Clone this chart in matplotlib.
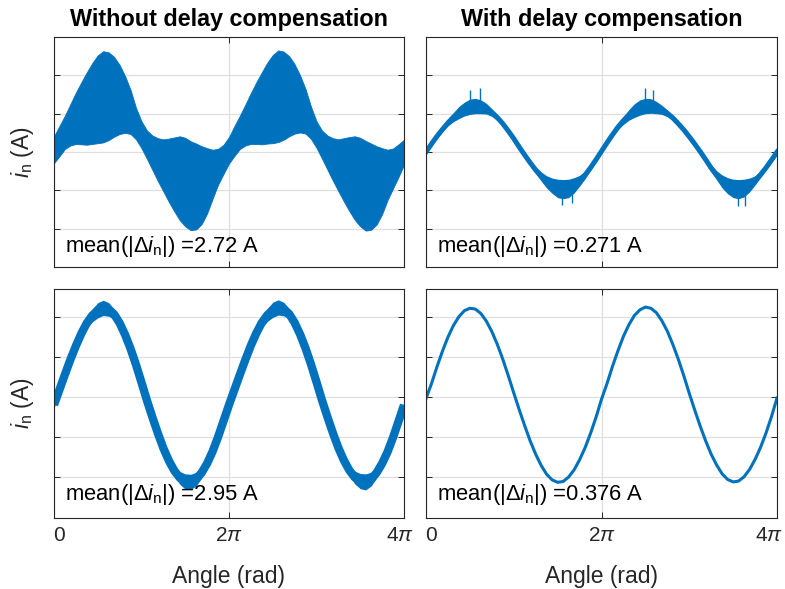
import numpy as np
import matplotlib
matplotlib.use("Agg")
from matplotlib import pyplot as plt
import matplotlib.transforms as mtransforms

plt.rcParams['font.family'] = ['Liberation Sans', 'DejaVu Sans']
plt.rcParams['mathtext.fontset'] = 'custom'
plt.rcParams['mathtext.rm'] = 'Liberation Sans'
plt.rcParams['mathtext.it'] = 'Liberation Sans:italic'
plt.rcParams['mathtext.bf'] = 'Liberation Sans:bold'

# angle grid, pi/16 steps over two electrical periods
angle = np.arange(65) * np.pi / 16

# without compensation, low current: envelope of the ripple band
tl_upper = [0.41, 0.68, 0.95, 1.25, 1.55, 1.82, 2.08, 2.32, 2.52, 2.63, 2.60, 2.48, 2.27, 1.98, 1.62, 1.15,
            0.80, 0.56, 0.43, 0.36, 0.33, 0.35, 0.38, 0.41, 0.37, 0.28, 0.22, 0.15, 0.10, 0.06, 0.08, 0.19,
            0.39, 0.68, 0.95, 1.24, 1.54, 1.82, 2.08, 2.33, 2.53, 2.65, 2.62, 2.50, 2.29, 2.00, 1.64, 1.18,
            0.80, 0.56, 0.43, 0.36, 0.33, 0.36, 0.39, 0.41, 0.37, 0.29, 0.22, 0.15, 0.10, 0.06, 0.09, 0.20,
            0.32]
tl_lower = [-0.29, -0.11, 0.08, 0.17, 0.21, 0.20, 0.19, 0.21, 0.23, 0.25, 0.31, 0.40, 0.47, 0.50, 0.47, 0.33,
            0.10, -0.18, -0.47, -0.76, -1.03, -1.30, -1.55, -1.78, -1.94, -2.04, -2.02, -1.88, -1.60, -1.22, -0.85, -0.57,
            -0.30, -0.10, 0.08, 0.17, 0.21, 0.21, 0.20, 0.22, 0.23, 0.26, 0.32, 0.41, 0.48, 0.51, 0.48, 0.34,
            0.11, -0.17, -0.46, -0.75, -1.02, -1.29, -1.54, -1.77, -1.94, -2.05, -2.03, -1.89, -1.62, -1.25, -0.95, -0.65,
            -0.33]

# with compensation, low current
tr_center = [0.00, 0.21, 0.41, 0.59, 0.76, 0.91, 1.03, 1.12, 1.18, 1.20, 1.18, 1.13, 1.03, 0.90, 0.74, 0.55,
             0.35, 0.13, -0.08, -0.28, -0.47, -0.64, -0.78, -0.88, -0.95, -0.97, -0.95, -0.87, -0.75, -0.60, -0.41, -0.20,
             0.02, 0.24, 0.45, 0.65, 0.82, 0.97, 1.08, 1.16, 1.20, 1.20, 1.16, 1.10, 1.01, 0.89, 0.74, 0.58,
             0.40, 0.21, 0.01, -0.20, -0.42, -0.61, -0.77, -0.88, -0.95, -0.97, -0.94, -0.86, -0.74, -0.59, -0.41, -0.21,
             0.00]
tr_ripple = [0.06, 0.06, 0.06, 0.06, 0.08, 0.12, 0.16, 0.18, 0.20, 0.20, 0.18, 0.14, 0.10, 0.08, 0.06, 0.06,
             0.06, 0.06, 0.06, 0.06, 0.08, 0.12, 0.16, 0.20, 0.24, 0.25, 0.24, 0.20, 0.14, 0.10, 0.07, 0.06,
             0.06, 0.06, 0.06, 0.07, 0.10, 0.14, 0.18, 0.20, 0.20, 0.19, 0.16, 0.12, 0.09, 0.07, 0.06, 0.06,
             0.06, 0.06, 0.06, 0.06, 0.08, 0.12, 0.17, 0.21, 0.24, 0.25, 0.23, 0.18, 0.12, 0.08, 0.06, 0.06,
             0.06]
tr_spike_angle = np.array([0.50, 0.61, 1.55, 1.66, 2.50, 2.59, 3.55, 3.63]) * np.pi
tr_spike_tip = [1.62, 1.66, -1.37, -1.33, 1.67, 1.63, -1.42, -1.40]

# without compensation, high current
bl_center = [-0.20, 0.18, 0.56, 0.93, 1.27, 1.58, 1.84, 2.03, 2.16, 2.22, 2.18, 2.06, 1.84, 1.55, 1.20, 0.80,
             0.36, -0.09, -0.51, -0.91, -1.28, -1.59, -1.84, -2.02, -2.11, -2.12, -2.05, -1.89, -1.66, -1.36, -1.00, -0.60,
             -0.20, 0.18, 0.56, 0.93, 1.28, 1.59, 1.85, 2.04, 2.17, 2.23, 2.19, 2.07, 1.85, 1.56, 1.21, 0.81,
             0.37, -0.08, -0.50, -0.90, -1.27, -1.58, -1.83, -2.01, -2.10, -2.12, -2.05, -1.89, -1.66, -1.37, -1.01, -0.61,
             -0.20]
bl_ripple = [0.08, 0.08, 0.08, 0.08, 0.08, 0.10, 0.13, 0.16, 0.19, 0.19, 0.17, 0.13, 0.10, 0.08, 0.08, 0.08,
             0.08, 0.08, 0.08, 0.08, 0.08, 0.10, 0.13, 0.16, 0.19, 0.19, 0.17, 0.13, 0.10, 0.08, 0.08, 0.08,
             0.08, 0.08, 0.08, 0.08, 0.08, 0.10, 0.13, 0.16, 0.19, 0.19, 0.17, 0.13, 0.10, 0.08, 0.08, 0.08,
             0.08, 0.08, 0.08, 0.08, 0.08, 0.10, 0.13, 0.16, 0.19, 0.20, 0.17, 0.13, 0.10, 0.08, 0.08, 0.08,
             0.08]

# with compensation, high current
br_center = [-0.04, 0.33, 0.75, 1.14, 1.49, 1.78, 2.00, 2.15, 2.21, 2.19, 2.08, 1.89, 1.63, 1.31, 0.94, 0.53,
             0.10, -0.32, -0.72, -1.10, -1.43, -1.71, -1.93, -2.07, -2.13, -2.11, -2.00, -1.82, -1.57, -1.27, -0.91, -0.51,
             -0.06, 0.33, 0.76, 1.15, 1.51, 1.80, 2.03, 2.17, 2.24, 2.21, 2.10, 1.90, 1.64, 1.31, 0.94, 0.53,
             0.09, -0.33, -0.73, -1.10, -1.43, -1.70, -1.92, -2.06, -2.12, -2.10, -1.99, -1.81, -1.56, -1.26, -0.90, -0.49,
             -0.03]

titles = ["Without delay compensation", "With delay compensation"]
mean_err = ["2.72", "0.271", "2.95", "0.376"]
xtick_vals = [0, 2 * np.pi, 4 * np.pi]
xtick_labels = ["0", r"2$\pi$", r"4$\pi$"]
ytick_vals = [-2, -1, 0, 1, 2]

blue = '#0072BD'
dark = '#262626'

fig = plt.figure(figsize=(7.85, 5.89), dpi=100)
W, H = 785, 589
boxes = [(54, 37, 350, 230), (426, 37, 351, 230), (54, 289, 350, 229), (426, 289, 351, 229)]
axes = [fig.add_axes([x / W, 1 - (y + h) / H, w / W, h / H]) for x, y, w, h in boxes]

for i, ax in enumerate(axes):
    ax.set_xlim(0, 4 * np.pi)
    if i < 2:
        ax.set_ylim(-3, 3)
    else:
        ax.set_ylim(-3.02, 2.69)
    ax.set_xticks(xtick_vals)
    ax.set_yticks(ytick_vals)
    ax.set_yticklabels([])
    ax.grid(True, color='#dfdfdf', linewidth=0.9)
    ax.set_axisbelow(True)
    ax.tick_params(direction='in', length=4.5, width=0.7, top=True, right=True,
                   colors=dark, labelsize=15, pad=6)
    for sp in ax.spines.values():
        sp.set_color(dark)
        sp.set_linewidth(0.8)
    if i < 2:
        ax.set_xticklabels([])
        ax.set_title(titles[i], fontsize=16.8, fontweight='bold', pad=8)
    else:
        ax.set_xticklabels(xtick_labels)
        ax.set_xlabel("Angle (rad)", fontsize=16.5, color=dark, labelpad=14)
        # nudge the end labels inwards so they stay inside the figure
        shift_right = -4 if i == 2 else -8
        labs = ax.get_xticklabels()
        labs[0].set_transform(labs[0].get_transform() +
                              mtransforms.ScaledTranslation(5 / 100, 0, fig.dpi_scale_trans))
        labs[2].set_transform(labs[2].get_transform() +
                              mtransforms.ScaledTranslation(shift_right / 100, 0, fig.dpi_scale_trans))
    if i % 2 == 0:
        ax.set_ylabel(r"$i_\mathrm{n}$ (A)", fontsize=16.5, color=dark)
        ax.yaxis.set_label_coords(-18 / 350, 0.5)
    ty = 0.066 if i < 2 else 0.08
    ax.text(0.031, ty, r"mean(|$\Delta i_\mathrm{n}$|) =" + mean_err[i] + " A", transform=ax.transAxes,
            fontsize=15.8, color='black', va='baseline', ha='left')

# top left: wide ripple band
axes[0].fill_between(angle, tl_lower, tl_upper, color=blue, linewidth=0.6, edgecolor=blue)

# top right: thin trace with ripple around the extrema
tr_c = np.array(tr_center)
tr_r = np.array(tr_ripple)
axes[1].fill_between(angle, tr_c - tr_r, tr_c + tr_r, color=blue, linewidth=0)
axes[1].plot(angle, tr_c, color=blue, linewidth=3.6, solid_joinstyle='round')
axes[1].vlines(tr_spike_angle, np.interp(tr_spike_angle, angle, tr_c), tr_spike_tip, color=blue, linewidth=1.0)

# bottom left: thick band
bl_c = np.array(bl_center)
bl_r = np.array(bl_ripple)
axes[2].fill_between(angle, bl_c - bl_r, bl_c + bl_r, color=blue, linewidth=0)
axes[2].plot(angle, bl_c, color=blue, linewidth=6.0, solid_capstyle='butt', solid_joinstyle='round')

# bottom right: clean trace
axes[3].plot(angle, br_center, color=blue, linewidth=2.2, solid_joinstyle='round')

fig.savefig("out.png", dpi=100)
